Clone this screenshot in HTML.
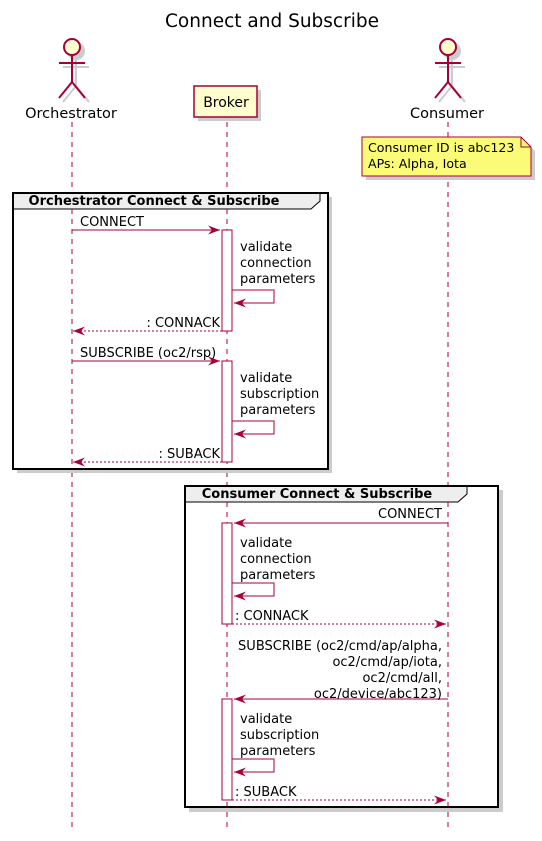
<!DOCTYPE html>
<html><head><meta charset="utf-8"><style>
html,body{margin:0;padding:0;background:#fff}
svg text{font-family:"DejaVu Sans","Liberation Sans",sans-serif}
</style></head><body>
<svg width="542" height="836" viewBox="0 0 542 836" xmlns="http://www.w3.org/2000/svg">
<defs>
<marker id="ah" viewBox="0 0 12 10" refX="12" refY="5" markerWidth="12" markerHeight="10" orient="auto-start-reverse" markerUnits="userSpaceOnUse">
<path d="M0,0.5 L12,5 L0,9.5 L4,5 Z" fill="#A80036"/>
</marker>
</defs>
<text x="272" y="27" font-size="18.5" text-anchor="middle" fill="#000">Connect and Subscribe</text>

<!-- lifelines -->
<g stroke="#A80036" stroke-width="1" stroke-dasharray="5,5">
<line x1="72" y1="122" x2="72" y2="828"/>
<line x1="227" y1="122" x2="227" y2="828"/>
<line x1="448" y1="122" x2="448" y2="828"/>
</g>

<!-- actors -->
<g stroke="#ccc" stroke-width="2" fill="#ccc">
<circle cx="76" cy="51" r="8"/>
<line x1="76" y1="59" x2="76" y2="86"/>
<line x1="63" y1="67" x2="89" y2="67"/>
<line x1="76" y1="86" x2="63" y2="102"/>
<line x1="76" y1="86" x2="89" y2="102"/>
<circle cx="452" cy="51" r="8"/>
<line x1="452" y1="59" x2="452" y2="86"/>
<line x1="439" y1="67" x2="465" y2="67"/>
<line x1="452" y1="86" x2="439" y2="102"/>
<line x1="452" y1="86" x2="465" y2="102"/>
</g>
<g stroke="#A80036" stroke-width="2" fill="#FEFECE">
<circle cx="72" cy="47" r="8"/>
<line x1="72" y1="55" x2="72" y2="82"/>
<line x1="59" y1="63" x2="85" y2="63"/>
<line x1="72" y1="82" x2="59" y2="98"/>
<line x1="72" y1="82" x2="85" y2="98"/>
<circle cx="448" cy="47" r="8"/>
<line x1="448" y1="55" x2="448" y2="82"/>
<line x1="435" y1="63" x2="461" y2="63"/>
<line x1="448" y1="82" x2="435" y2="98"/>
<line x1="448" y1="82" x2="461" y2="98"/>
</g>
<text x="71" y="118" font-size="14.5" text-anchor="middle">Orchestrator</text>
<text x="447" y="118" font-size="14.5" text-anchor="middle">Consumer</text>
<rect x="198" y="90" width="63" height="31" fill="#ccc"/>
<rect x="194" y="86" width="63" height="31" fill="#FEFECE" stroke="#A80036" stroke-width="1.5"/>
<text x="226" y="107" font-size="14" text-anchor="middle">Broker</text>

<!-- note -->
<path d="M366,141 L525,141 L535,151 L535,180 L366,180 Z" fill="#ccc"/>
<path d="M362,137 L521,137 L531,147 L531,176 L362,176 Z" fill="#FBFB77" stroke="#A80036" stroke-width="1"/>
<path d="M521,137 L521,147 L531,147" fill="none" stroke="#A80036"/>
<text x="368" y="152" font-size="12.6">Consumer ID is abc123</text>
<text x="368" y="168" font-size="12.6">APs: Alpha, Iota</text>

<!-- group 1 -->
<rect x="17" y="197" width="315" height="276" fill="#ccc"/>
<rect x="13" y="193" width="315" height="276" fill="#fff" stroke="#000" stroke-width="2"/>
<path d="M13,193 L320,193 L320,201 L311,209 L13,209 Z" fill="#EEEEEE" stroke="#000" stroke-width="1"/>
<rect x="13" y="193" width="315" height="276" fill="none" stroke="#000" stroke-width="2"/>
<text x="154" y="205" font-size="13" font-weight="bold" text-anchor="middle">Orchestrator Connect &amp; Subscribe</text>
<line x1="72" y1="209" x2="72" y2="469" stroke="#A80036" stroke-dasharray="5,5"/>
<line x1="227" y1="209" x2="227" y2="469" stroke="#A80036" stroke-dasharray="5,5"/>

<!-- group 2 -->
<rect x="189" y="490" width="314" height="322" fill="#ccc"/>
<rect x="185" y="486" width="313" height="321" fill="#fff" stroke="#000" stroke-width="2"/>
<path d="M185,486 L467,486 L467,494 L458,502 L185,502 Z" fill="#EEEEEE" stroke="#000" stroke-width="1"/>
<rect x="185" y="486" width="313" height="321" fill="none" stroke="#000" stroke-width="2"/>
<text x="317" y="498" font-size="13" font-weight="bold" text-anchor="middle">Consumer Connect &amp; Subscribe</text>
<line x1="227" y1="502" x2="227" y2="807" stroke="#A80036" stroke-dasharray="5,5"/>
<line x1="448" y1="502" x2="448" y2="807" stroke="#A80036" stroke-dasharray="5,5"/>

<!-- activations -->
<g fill="#fff" stroke="#A80036" stroke-width="1">
<rect x="222" y="230" width="10" height="101"/>
<rect x="222" y="361" width="10" height="101"/>
<rect x="222" y="523" width="10" height="101"/>
<rect x="222" y="699" width="10" height="101"/>
</g>

<g stroke="#A80036" stroke-width="1" fill="none">
<line x1="72" y1="230" x2="220" y2="230" marker-end="url(#ah)"/>
<polyline points="232,290 274,290 274,303 234,303" marker-end="url(#ah)"/>
<line x1="222" y1="331" x2="73" y2="331" stroke-dasharray="2,2" marker-end="url(#ah)"/>
<line x1="72" y1="361" x2="220" y2="361" marker-end="url(#ah)"/>
<polyline points="232,421 274,421 274,434 234,434" marker-end="url(#ah)"/>
<line x1="222" y1="462" x2="73" y2="462" stroke-dasharray="2,2" marker-end="url(#ah)"/>

<line x1="448" y1="523" x2="234" y2="523" marker-end="url(#ah)"/>
<polyline points="232,583 274,583 274,596 234,596" marker-end="url(#ah)"/>
<line x1="232" y1="624" x2="446" y2="624" stroke-dasharray="2,2" marker-end="url(#ah)"/>
<line x1="448" y1="699" x2="234" y2="699" marker-end="url(#ah)"/>
<polyline points="232,759 274,759 274,772 234,772" marker-end="url(#ah)"/>
<line x1="232" y1="800" x2="446" y2="800" stroke-dasharray="2,2" marker-end="url(#ah)"/>
</g>

<g font-size="13" fill="#000">
<text x="80" y="226">CONNECT</text>
<text x="240" y="251">validate</text>
<text x="240" y="267">connection</text>
<text x="240" y="283">parameters</text>
<text x="220" y="327" text-anchor="end">: CONNACK</text>
<text x="80" y="357">SUBSCRIBE (oc2/rsp)</text>
<text x="240" y="382">validate</text>
<text x="240" y="398">subscription</text>
<text x="240" y="414">parameters</text>
<text x="220" y="458" text-anchor="end">: SUBACK</text>

<text x="442" y="518" text-anchor="end">CONNECT</text>
<text x="240" y="547">validate</text>
<text x="240" y="563">connection</text>
<text x="240" y="579">parameters</text>
<text x="235" y="620">: CONNACK</text>
<text x="442" y="650" text-anchor="end">SUBSCRIBE (oc2/cmd/ap/alpha,</text>
<text x="442" y="666" text-anchor="end">oc2/cmd/ap/iota,</text>
<text x="442" y="682" text-anchor="end">oc2/cmd/all,</text>
<text x="442" y="698" text-anchor="end">oc2/device/abc123)</text>
<text x="240" y="723">validate</text>
<text x="240" y="739">subscription</text>
<text x="240" y="755">parameters</text>
<text x="235" y="796">: SUBACK</text>
</g>
</svg>
</body></html>
